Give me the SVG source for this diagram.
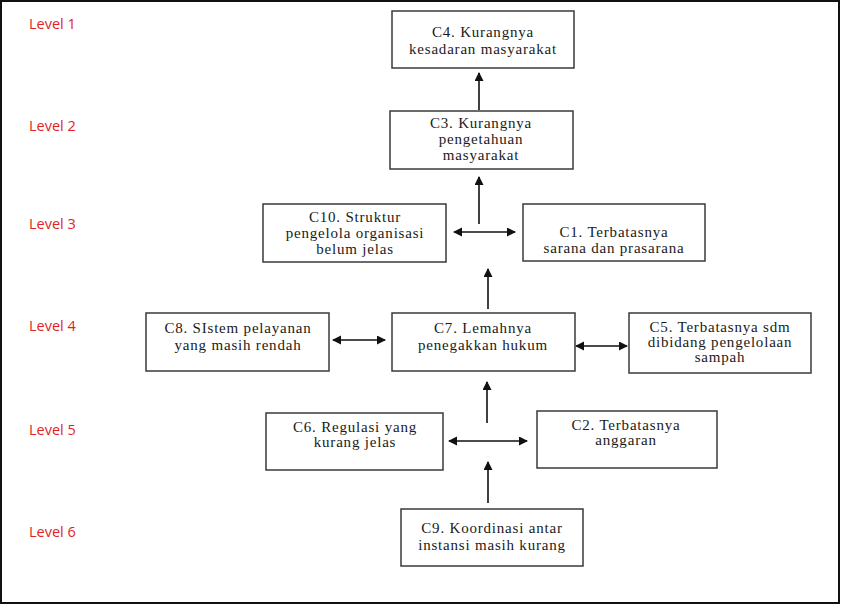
<svg xmlns="http://www.w3.org/2000/svg" width="841" height="605" viewBox="0 0 841 605">
<style>
.box{fill:#fff;stroke:#3a3a3a;stroke-width:1.5}
.t{font-family:"Liberation Serif","Times New Roman",serif;font-size:15px;letter-spacing:0.8px;fill:#1a1a1a;text-anchor:middle}
.lv{font-family:"Open Sans","Liberation Sans",sans-serif;font-size:14.5px;fill:#e02424}
.c{stroke:#111;stroke-width:1.6;fill:none}
</style>
<defs>
<marker id="ah" markerUnits="userSpaceOnUse" markerWidth="9" markerHeight="10" refX="8" refY="4.5" orient="auto-start-reverse" viewBox="0 0 9 10">
<path d="M0,0 L9,4.5 L0,9 z" fill="#111"/>
</marker>
</defs>
<rect x="0" y="0" width="841" height="605" fill="#fff"/>
<rect x="1" y="1" width="838" height="602" fill="none" stroke="#111" stroke-width="2"/>
<g id="levels">
<text class="lv" x="29" y="29">Level 1</text>
<text class="lv" x="29" y="131">Level 2</text>
<text class="lv" x="29" y="229">Level 3</text>
<text class="lv" x="29" y="331">Level 4</text>
<text class="lv" x="29" y="435">Level 5</text>
<text class="lv" x="29" y="537">Level 6</text>
</g>
<g id="connectors">
<line class="c" x1="479" y1="110" x2="479" y2="73" marker-end="url(#ah)"/>
<line class="c" x1="479" y1="224" x2="479" y2="177" marker-end="url(#ah)"/>
<line class="c" x1="454" y1="232" x2="515" y2="232" marker-start="url(#ah)" marker-end="url(#ah)"/>
<line class="c" x1="488" y1="309" x2="488" y2="269" marker-end="url(#ah)"/>
<line class="c" x1="333" y1="340" x2="385" y2="340" marker-start="url(#ah)" marker-end="url(#ah)"/>
<line class="c" x1="576" y1="346" x2="627" y2="346" marker-start="url(#ah)" marker-end="url(#ah)"/>
<line class="c" x1="487" y1="423" x2="487" y2="382" marker-end="url(#ah)"/>
<line class="c" x1="449" y1="441" x2="527" y2="441" marker-start="url(#ah)" marker-end="url(#ah)"/>
<line class="c" x1="488" y1="503" x2="488" y2="462" marker-end="url(#ah)"/>
</g>
<g id="C4">
<rect class="box" x="392" y="11" width="182" height="57"/>
<text class="t" x="483" y="37">C4. Kurangnya</text>
<text class="t" x="483" y="54">kesadaran masyarakat</text>
</g>
<g id="C3">
<rect class="box" x="390" y="111" width="183" height="58"/>
<text class="t" x="481" y="128">C3. Kurangnya</text>
<text class="t" x="481" y="144">pengetahuan</text>
<text class="t" x="481" y="160">masyarakat</text>
</g>
<g id="C10">
<rect class="box" x="263" y="204" width="183" height="58"/>
<text class="t" x="355" y="222">C10. Struktur</text>
<text class="t" x="355" y="238">pengelola organisasi</text>
<text class="t" x="355" y="254">belum jelas</text>
</g>
<g id="C1">
<rect class="box" x="523" y="204" width="182" height="57"/>
<text class="t" x="614" y="237">C1. Terbatasnya</text>
<text class="t" x="614" y="253">sarana dan prasarana</text>
</g>
<g id="C8">
<rect class="box" x="146" y="313" width="183" height="58"/>
<text class="t" x="238" y="333">C8. SIstem pelayanan</text>
<text class="t" x="238" y="350">yang masih rendah</text>
</g>
<g id="C7">
<rect class="box" x="392" y="313" width="183" height="58"/>
<text class="t" x="483" y="333">C7. Lemahnya</text>
<text class="t" x="483" y="350">penegakkan hukum</text>
</g>
<g id="C5">
<rect class="box" x="629" y="313" width="182" height="60"/>
<text class="t" x="720" y="332">C5. Terbatasnya sdm</text>
<text class="t" x="720" y="347">dibidang pengelolaan</text>
<text class="t" x="720" y="362">sampah</text>
</g>
<g id="C6">
<rect class="box" x="266" y="413" width="177" height="57"/>
<text class="t" x="355" y="432">C6. Regulasi yang</text>
<text class="t" x="355" y="447">kurang jelas</text>
</g>
<g id="C2">
<rect class="box" x="537" y="411" width="180" height="57"/>
<text class="t" x="626" y="430">C2. Terbatasnya</text>
<text class="t" x="626" y="445">anggaran</text>
</g>
<g id="C9">
<rect class="box" x="401" y="509" width="182" height="57"/>
<text class="t" x="492" y="533">C9. Koordinasi antar</text>
<text class="t" x="492" y="550">instansi masih kurang</text>
</g>
</svg>
